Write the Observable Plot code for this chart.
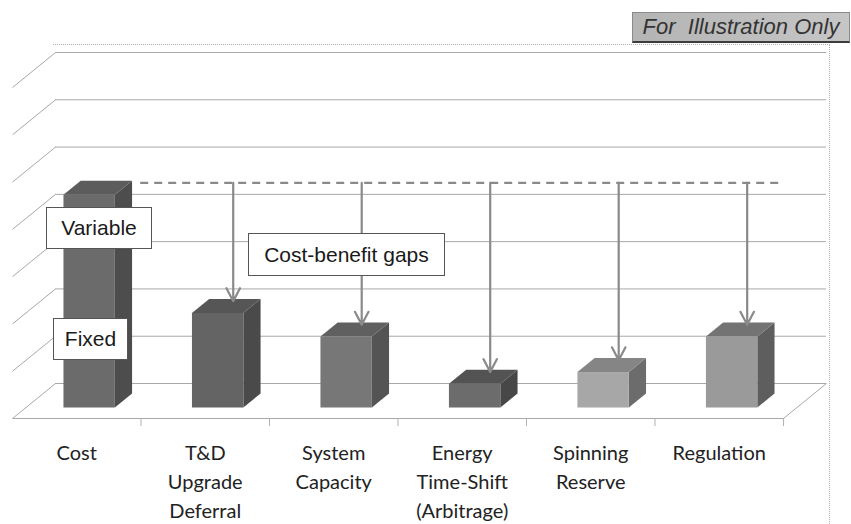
<!DOCTYPE html>
<html>
<head>
<meta charset="utf-8">
<script src="https://cdn.jsdelivr.net/npm/d3@7"></script>
<script src="https://cdn.jsdelivr.net/npm/@observablehq/plot@0.6"></script>
<style>
  html, body { margin: 0; padding: 0; background: #fff; }
  #chart { position: relative; width: 851px; height: 524px; overflow: hidden; }
  #chart svg { position: absolute; left: 0; top: 0; }
  .note {
    position: absolute; box-sizing: border-box; background: #fff;
    border: 1px solid #555; color: #1a1a1a;
    font: 21px "Liberation Sans", Arial, sans-serif;
    display: flex; align-items: center; justify-content: center; white-space: nowrap;
  }
  .stamp {
    position: absolute; left: 632px; top: 12px; width: 218px; height: 31px; box-sizing: border-box;
    background: linear-gradient(90deg, #b4b4b4, #c6c6c6);
    border: 1px solid #8a8a8a; border-bottom: 2px solid #3c3c3c;
    font: italic 22px "Liberation Sans", Arial, sans-serif; color: #333;
    display: flex; align-items: center; justify-content: center; white-space: pre;
  }
  .frame {
    position: absolute; left: 53px; top: 44px; width: 777px; height: 490px;
    border-top: 1px dotted #b0b0b0; border-right: 1px dotted #b0b0b0; box-sizing: border-box;
  }
</style>
</head>
<body>
<div id="chart"></div>
<script>
// Applications compared against the storage cost
const categories = ["Cost", "T&D Upgrade Deferral", "System Capacity", "Energy Time-Shift (Arbitrage)", "Spinning Reserve", "Regulation"];
const labelLines = [["Cost"], ["T&D", "Upgrade", "Deferral"], ["System", "Capacity"], ["Energy", "Time-Shift", "(Arbitrage)"], ["Spinning", "Reserve"], ["Regulation"]];
const values = [4.5, 2.0, 1.5, 0.5, 0.75, 1.5];
const gridLevels = [0, 1, 2, 3, 4, 5, 6, 7];

// Shading of each column's faces
const frontShade = ["#6b6b6b", "#646464", "#777777", "#6c6c6c", "#a7a7a7", "#9a9a9a"];
const topShade   = ["#5c5c5c", "#565656", "#606060", "#535353", "#858585", "#737373"];
const sideShade  = ["#4d4d4d", "#4a4a4a", "#545454", "#474747", "#6c6c6c", "#5e5e5e"];

// Oblique projection: offset from the back wall to the front edge of the floor, in data units
const DX = -0.335, DY = -0.74;
const FRONT = 0.7, BACK = 0.3;      // depth of the column faces (0 = back wall, 1 = front edge)
const BAR_L = 0.3, BAR_R = 0.7;     // column extent inside its category band
const GAP_DEPTH = 0.35;             // depth plane of the gap arrows and the cost level line
const n = categories.length;

const bars = values.map((v, i) => {
  const xl = i + BAR_L + FRONT * DX, xr = i + BAR_R + FRONT * DX;
  const yb = FRONT * DY, yt = v + FRONT * DY;
  return {i, v, xl, xr, yb, yt};
});
const sx = (BACK - FRONT) * DX, sy = (BACK - FRONT) * DY;
const sidePts = bars.flatMap(b => [
  {i: b.i, x: b.xr, lo: b.yb, hi: b.yt},
  {i: b.i, x: b.xr + sx, lo: b.yb + sy, hi: b.yt + sy}
]);
const topPts = bars.flatMap(b => [
  {i: b.i, x: b.xl, lo: b.yt, hi: b.yt},
  {i: b.i, x: b.xl + sx, lo: b.yt, hi: b.yt + sy},
  {i: b.i, x: b.xr, lo: b.yt, hi: b.yt + sy},
  {i: b.i, x: b.xr + sx, lo: b.yt + sy, hi: b.yt + sy}
]);
const labelRows = labelLines.flatMap((lines, i) => lines.map((t, k) => ({i, t, k})));
const gapIdx = d3.range(1, n);
const boundaries = d3.range(1, n + 1);
const wallColor = "#a8a8a8";
const arrowColor = "#8a8a8a";

const plot = Plot.plot({
  width: 851,
  height: 524,
  marginLeft: 12,
  marginRight: 25,
  marginTop: 52,
  marginBottom: 106,
  x: {domain: [DX, n], axis: null},
  y: {domain: [DY, 7], axis: null},
  color: {type: "identity"},
  style: {background: "transparent", overflow: "visible"},
  marks: [
    // back wall gridlines and left wall
    Plot.ruleY(gridLevels, {y: d => d, x1: 0, x2: n, stroke: wallColor, strokeWidth: 1}),
    Plot.link(gridLevels, {x1: 0, y1: d => d, x2: DX, y2: d => d + DY, stroke: wallColor, strokeWidth: 1}),
    // floor edges
    Plot.link([0], {x1: DX, y1: DY, x2: n + DX, y2: DY, stroke: wallColor, strokeWidth: 1}),
    Plot.link([0], {x1: n, y1: 0, x2: n + DX, y2: DY, stroke: wallColor, strokeWidth: 1}),
    Plot.ruleX(boundaries, {x: d => d + DX, y1: DY, y2: DY - 0.17, stroke: "#b0b0b0"}),
    // columns
    Plot.areaY(sidePts, {x: "x", y1: "lo", y2: "hi", z: "i", fill: d => sideShade[d.i], curve: "linear"}),
    Plot.areaY(topPts, {x: "x", y1: "lo", y2: "hi", z: "i", fill: d => topShade[d.i], curve: "linear"}),
    Plot.rect(bars, {x1: "xl", x2: "xr", y1: "yb", y2: "yt", fill: d => frontShade[d.i]}),
    // cost level and the gaps down to each benefit
    Plot.ruleY([values[0]], {
      y: v => v + GAP_DEPTH * DY, x1: BAR_R + GAP_DEPTH * DX + 0.08, x2: n - 0.22 + GAP_DEPTH * DX,
      stroke: arrowColor, strokeWidth: 2.2, strokeDasharray: "8,6"
    }),
    Plot.arrow(gapIdx, {
      x1: i => i + 0.5 + GAP_DEPTH * DX, x2: i => i + 0.5 + GAP_DEPTH * DX,
      y1: values[0] + GAP_DEPTH * DY, y2: i => values[i] + GAP_DEPTH * DY,
      stroke: arrowColor, strokeWidth: 2.2, headLength: 10, headAngle: 55
    }),
    // category labels, one line per mark
    ...[0, 1, 2].map(k => Plot.text(labelRows.filter(r => r.k === k), {
      x: d => d.i + 0.5 + DX, y: () => DY, text: "t", dy: 35 + 29 * k,
      fontSize: 20, fill: "#222", fontFamily: "Lato, 'Open Sans', sans-serif", lineAnchor: "middle"
    }))
  ]
});

const chart = document.getElementById("chart");
chart.append(plot);

const frame = document.createElement("div");
frame.className = "frame";
chart.append(frame);

// callout boxes placed through the plot's scales
const xs = plot.scale("x"), ys = plot.scale("y");
const notes = [
  {text: "Variable", x: 0.342, y: 3.278, w: 106, h: 42},
  {text: "Fixed", x: 0.276, y: 0.93, w: 75, h: 42},
  {text: "Cost-benefit gaps", x: 2.268, y: 2.717, w: 197, h: 43}
];
for (const note of notes) {
  const el = document.createElement("div");
  el.className = "note";
  el.textContent = note.text;
  el.style.left = (xs.apply(note.x) - note.w / 2) + "px";
  el.style.top = (ys.apply(note.y) - note.h / 2) + "px";
  el.style.width = note.w + "px";
  el.style.height = note.h + "px";
  chart.append(el);
}

const stamp = document.createElement("div");
stamp.className = "stamp";
stamp.textContent = "For  Illustration Only";
chart.append(stamp);
</script>
</body>
</html>
